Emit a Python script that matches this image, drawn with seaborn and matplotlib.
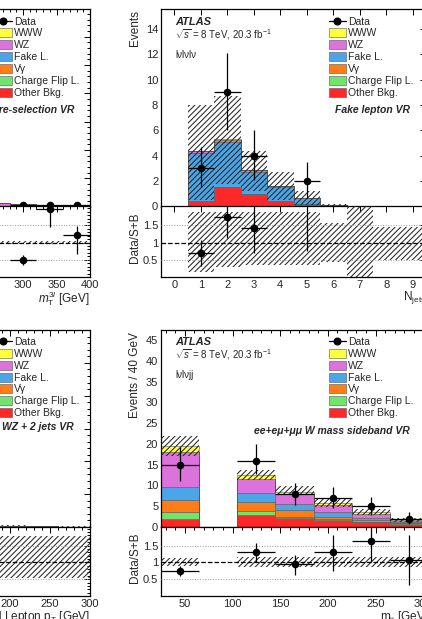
#!/usr/bin/env python3
"""
Validation regions (ATLAS WWW, crop of a 2x2 grid)
Stacked backgrounds + data, with Data/S+B ratio panels.
Output: out.png (422x619)
"""

import matplotlib

matplotlib.use("Agg")
import matplotlib.pyplot as plt
import numpy as np
import pandas as pd
import seaborn as sns
from matplotlib.lines import Line2D
from matplotlib.patches import Patch
from matplotlib.ticker import MultipleLocator

W, H = 422, 619

PROCESSES = ["WWW", "WZ", "Fake L.", "Vγ", "Charge Flip L.", "Other Bkg."]
COLORS = ["#ffff3c", "#dc73dc", "#4ba5e6", "#ff7d14", "#6ee66e", "#ff2828"]

# ── Pre-selection VR (m_T^3l) — only the visible right end ────────────────
pre_edges = [240, 280, 320, 360, 400]
pre_www = [0.5, 0.3, 0.1, 0.1]
pre_wz = [9.0, 7.0, 2.5, 4.0]
pre_fake = [1.0, 1.0, 0.5, 0.5]
pre_vgam = [0.2, 0.1, 0.0, 0.0]
pre_cf = [0.1, 0.1, 0.0, 0.0]
pre_other = [1.2, 1.5, 0.4, 0.4]
pre_band_lo = [11.0, 9.5, 3.3, 4.7]
pre_band_hi = [13.0, 10.5, 3.7, 5.3]
pre_data = [np.nan, 5.0, 7.0, 6.0]
pre_data_lo = [np.nan, 2.2, 2.6, 2.4]
pre_data_hi = [np.nan, 3.4, 3.7, 3.6]
pre_ratio = [np.nan, 0.5, 1.97, 1.21]
pre_ratio_lo = [np.nan, 0.15, 0.52, 0.55]
pre_ratio_hi = [np.nan, 0.15, 0.5, 0.27]
pre_rband_lo = [0.96, 0.96, 0.96, 0.96]
pre_rband_hi = [1.04, 1.04, 1.04, 1.04]

# ── Fake lepton VR (N_jets) ───────────────────────────────────────────────
fake_edges = [-0.5, 0.5, 1.5, 2.5, 3.5, 4.5, 5.5, 6.5, 7.5, 8.5, 9.5]
fake_www = [0.0, 0.02, 0.05, 0.03, 0.01, 0.0, 0.0, 0.0, 0.0, 0.0]
fake_wz = [0.0, 0.1, 0.15, 0.1, 0.05, 0.02, 0.0, 0.0, 0.0, 0.0]
fake_fake = [0.0, 3.8, 3.6, 1.75, 1.1, 0.45, 0.08, 0.02, 0.01, 0.01]
fake_vgam = [0.0] * 10
fake_cf = [0.0] * 10
fake_other = [0.02, 0.45, 1.5, 1.0, 0.45, 0.2, 0.05, 0.01, 0.01, 0.01]
fake_band_lo = [0.0, 0.5, 1.8, 1.2, 0.5, 0.1, 0.0, 0.0, 0.0, 0.0]
fake_band_hi = [0.02, 8.0, 8.7, 4.4, 2.7, 1.2, 0.2, 0.06, 0.03, 0.03]
fake_data = [np.nan, 3, 9, 4, np.nan, 2, np.nan, np.nan, np.nan, np.nan]
fake_data_lo = [np.nan, 1.5, 3.0, 1.9, np.nan, 1.3, np.nan, np.nan, np.nan, np.nan]
fake_data_hi = [np.nan, 1.7, 3.1, 2.0, np.nan, 1.5, np.nan, np.nan, np.nan, np.nan]
fake_ratio = [np.nan, 0.7, 1.74, 1.42, np.nan, 3.0, np.nan, np.nan, np.nan, np.nan]
fake_ratio_lo = [np.nan, 0.39, 0.6, 0.71, np.nan, 2.25, np.nan, np.nan, np.nan, np.nan]
fake_ratio_hi = [np.nan, 0.37, 0.6, 0.8, np.nan, 2.0, np.nan, np.nan, np.nan, np.nan]
fake_rband_lo = [np.nan, 0.15, 0.3, 0.35, 0.35, 0.35, 0.45, 0.0, 0.5, 0.5]
fake_rband_hi = [np.nan, 1.88, 1.88, 1.88, 1.88, 1.88, 1.58, 2.1, 1.45, 1.45]

# ── WZ + 2 jets VR (3rd lepton pT) — visible right end ────────────────────
wz_edges = [180, 220, 260, 300]
wz_www = [0.0, 0.0, 0.0]
wz_wz = [0.3, 0.2, 0.1]
wz_fake = [0.0, 0.0, 0.0]
wz_vgam = [0.0, 0.0, 0.0]
wz_cf = [0.0, 0.0, 0.0]
wz_other = [0.1, 0.05, 0.05]
wz_band_lo = [0.3, 0.2, 0.1]
wz_band_hi = [0.5, 0.3, 0.2]
wz_rband_lo = [0.53, 0.53, 0.53]
wz_rband_hi = [1.77, 1.77, 1.77]

# ── W mass sideband VR (m_jj) ─────────────────────────────────────────────
mjj_edges = [25, 65, 105, 145, 185, 225, 265, 305]
mjj_www = [1.6, 0.0, 1.1, 0.6, 0.5, 0.4, 0.1]
mjj_wz = [8.3, 0.0, 3.4, 2.3, 1.6, 1.0, 0.3]
mjj_fake = [3.2, 0.0, 2.2, 1.5, 1.1, 0.4, 0.3]
mjj_vgam = [2.9, 0.0, 2.0, 1.6, 0.65, 0.4, 0.1]
mjj_cf = [1.7, 0.0, 1.1, 0.4, 0.15, 0.1, 0.05]
mjj_other = [1.9, 0.0, 2.8, 2.1, 1.7, 1.2, 0.8]
mjj_band_lo = [17.2, 0.0, 11.2, 7.6, 4.8, 2.9, 1.3]
mjj_band_hi = [22.0, 0.0, 13.8, 9.8, 6.9, 4.3, 2.1]
mjj_data = [15, np.nan, 16, 8, 7, 5, 2]
mjj_data_lo = [3.9, np.nan, 3.2, 2.8, 2.5, 2.1, 1.3]
mjj_data_hi = [4.2, np.nan, 4.0, 2.7, 2.6, 2.1, 1.5]
mjj_ratio = [0.75, np.nan, 1.31, 0.94, 1.31, 1.63, 1.07]
mjj_ratio_lo = [0.17, np.nan, 0.29, 0.31, 0.58, 0.61, 0.74]
mjj_ratio_hi = [0.15, np.nan, 0.25, 0.28, 0.49, 0.6, 0.73]
mjj_rband_lo = [0.9, np.nan, 0.85, 0.85, 0.85, 0.85, 0.85]
mjj_rband_hi = [1.13, np.nan, 1.15, 1.15, 1.15, 1.15, 1.15]


def fig_axes(fig, left, right, top, bottom):
    """Axes from pixel box (y measured downward)."""
    return fig.add_axes([left / W, 1 - bottom / H, (right - left) / W, (bottom - top) / H])


def stack_frame(edges, stacks):
    edges = np.asarray(edges, dtype=float)
    centers = 0.5 * (edges[:-1] + edges[1:])
    rows = []
    for proc, vals in zip(PROCESSES, stacks):
        for c, v in zip(centers, vals):
            rows.append({"x": c, "w": v, "proc": proc})
    return pd.DataFrame(rows)


def style_axis(ax, xmajor, xminor, ymajor, yminor):
    ax.xaxis.set_major_locator(MultipleLocator(xmajor))
    if xminor:
        ax.xaxis.set_minor_locator(MultipleLocator(xminor))
    ax.yaxis.set_major_locator(MultipleLocator(ymajor))
    ax.yaxis.set_minor_locator(MultipleLocator(yminor))
    ax.tick_params(which="both", direction="in", top=True, right=True,
                   labelsize=8, pad=2, width=0.7, color="black")
    ax.tick_params(which="major", length=4.5)
    ax.tick_params(which="minor", length=2.3)
    for sp in ax.spines.values():
        sp.set_linewidth(0.9)
        sp.set_color("black")


def draw_band(ax, edges, lo, hi):
    edges = np.asarray(edges, dtype=float)
    widths = np.diff(edges)
    lo = np.asarray(lo, dtype=float)
    hi = np.asarray(hi, dtype=float)
    ax.bar(edges[:-1] + widths / 2, hi - lo, bottom=lo, width=widths, fill=False,
           hatch="//////", edgecolor="#262626", linewidth=0, zorder=3)


def draw_points(ax, edges, vals, err_lo, err_hi):
    edges = np.asarray(edges, dtype=float)
    widths = np.diff(edges)
    centers = edges[:-1] + widths / 2
    ax.errorbar(centers, vals, yerr=[err_lo, err_hi], xerr=widths / 2, fmt="none",
                ecolor="black", elinewidth=0.9, capsize=0, zorder=6)
    sns.scatterplot(x=centers, y=vals, color="black", s=30, linewidth=0, ax=ax, zorder=7)


def draw_main(ax, edges, stacks, band_lo, band_hi):
    df = stack_frame(edges, stacks)
    sns.histplot(data=df, x="x", weights="w", hue="proc", hue_order=PROCESSES,
                 palette=COLORS, multiple="stack", bins=edges, element="step",
                 alpha=1, linewidth=0.4, edgecolor="#5a5a5a", legend=False, ax=ax)
    draw_band(ax, edges, band_lo, band_hi)
    ax.set_xlabel("")
    ax.set_ylabel("")
    ax.tick_params(labelbottom=False)


def draw_ratio(ax, ylabel=True):
    for y, ls, c, lw in [(0.5, ":", "#9a9a9a", 0.7), (1.5, ":", "#9a9a9a", 0.7), (1.0, "--", "black", 0.9)]:
        ax.axhline(y, ls=ls, color=c, lw=lw, zorder=4)
    ax.set_ylim(0.0, 2.05)
    if ylabel:
        ax.set_ylabel("Data/S+B", fontsize=8.5, loc="top")
        ax.yaxis.set_label_coords(-0.075, 0.92)


def ratio_ticks(ax):
    ax.set_yticks([0.5, 1.0, 1.5])
    ax.set_yticklabels(["0.5", "1", "1.5"])


def add_legend(ax, x_px, y_px, region, region_x_px, region_y_px):
    handles = [Line2D([], [], color="black", marker="o", ms=4.8, lw=0.9)]
    handles += [Patch(facecolor=c, edgecolor="#555555", linewidth=0.4) for c in COLORS]
    labels = ["Data"] + PROCESSES
    ax.legend(handles, labels, loc="upper left", bbox_to_anchor=(x_px / W, 1 - y_px / H),
              bbox_transform=ax.figure.transFigure, frameon=False, fontsize=7.5,
              handlelength=1.6, handleheight=0.95, handletextpad=0.25, labelspacing=0.17,
              borderpad=0, borderaxespad=0)
    ax.figure.text(region_x_px / W, 1 - region_y_px / H, region, ha="right", va="center",
                   fontsize=7.5, fontweight="bold", fontstyle="italic")


def add_atlas(fig, x_px, y_px, channel):
    fig.text(x_px / W, 1 - y_px / H, "ATLAS", fontsize=8, fontweight="bold",
             fontstyle="italic", va="center")
    fig.text(x_px / W, 1 - (y_px + 12.5) / H, r"$\sqrt{s}$ = 8 TeV, 20.3 fb$^{-1}$",
             fontsize=7, va="center")
    fig.text(x_px / W, 1 - (y_px + 33) / H, channel, fontsize=7, va="center")


def main() -> None:
    sns.set_theme(style="white")
    plt.rcParams["font.family"] = ["Liberation Sans", "DejaVu Sans"]
    plt.rcParams["mathtext.fontset"] = "custom"
    plt.rcParams["mathtext.rm"] = "Liberation Sans"
    plt.rcParams["mathtext.it"] = "Liberation Sans:italic"
    plt.rcParams["hatch.linewidth"] = 0.75

    fig = plt.figure(figsize=(W / 100, H / 100), dpi=100)

    # ── top-left: Pre-selection VR ──
    ax = fig_axes(fig, -178, 90, 8.5, 206.5)
    rx = fig_axes(fig, -178, 90, 206.5, 277)
    draw_main(ax, pre_edges, [pre_www, pre_wz, pre_fake, pre_vgam, pre_cf, pre_other],
              pre_band_lo, pre_band_hi)
    draw_points(ax, pre_edges, pre_data, pre_data_lo, pre_data_hi)
    ax.set_xlim(0, 400)
    ax.set_ylim(0, 700)
    style_axis(ax, 50, 10, 100, 20)
    draw_band(rx, pre_edges, pre_rband_lo, pre_rband_hi)
    draw_points(rx, pre_edges, pre_ratio, pre_ratio_lo, pre_ratio_hi)
    draw_ratio(rx, ylabel=False)
    rx.set_xlim(0, 400)
    style_axis(rx, 50, 10, 0.5, 0.1)
    ratio_ticks(rx)
    rx.set_xlabel(r"$m_{\mathrm{T}}^{3l}$ [GeV]", fontsize=8.5, loc="right")
    rx.xaxis.set_label_coords(1.0, -0.17)
    add_legend(ax, -5, 16.5, "Pre-selection VR", 74, 110)

    # ── top-right: Fake lepton VR ──
    ax = fig_axes(fig, 161, 426, 8.5, 206.5)
    rx = fig_axes(fig, 161, 426, 206.5, 277)
    draw_main(ax, fake_edges, [fake_www, fake_wz, fake_fake, fake_vgam, fake_cf, fake_other],
              fake_band_lo, fake_band_hi)
    draw_points(ax, fake_edges, fake_data, fake_data_lo, fake_data_hi)
    ax.set_xlim(-0.5, 9.5)
    ax.set_ylim(0, 15.6)
    style_axis(ax, 1, None, 2, 0.5)
    ax.set_ylabel("Events", fontsize=8.5, loc="top")
    ax.yaxis.set_label_coords(-0.075, 0.99)
    draw_band(rx, fake_edges, fake_rband_lo, fake_rband_hi)
    draw_points(rx, fake_edges, fake_ratio, fake_ratio_lo, fake_ratio_hi)
    draw_ratio(rx)
    rx.set_xlim(-0.5, 9.5)
    style_axis(rx, 1, None, 0.5, 0.1)
    ratio_ticks(rx)
    rx.set_xlabel(r"N$_{\mathrm{jets}}$", fontsize=8.5, loc="right")
    rx.xaxis.set_label_coords(1.0, -0.17)
    add_atlas(fig, 175, 22, "lνlνlν")
    add_legend(ax, 329, 16.5, "Fake lepton VR", 410, 110)

    # ── bottom-left: WZ + 2 jets VR ──
    ax = fig_axes(fig, -150, 90, 330, 527)
    rx = fig_axes(fig, -150, 90, 527, 596)
    draw_main(ax, wz_edges, [wz_www, wz_wz, wz_fake, wz_vgam, wz_cf, wz_other],
              wz_band_lo, wz_band_hi)
    ax.set_xlim(0, 300)
    ax.set_ylim(0, 60)
    style_axis(ax, 50, 10, 10, 2)
    draw_band(rx, wz_edges, wz_rband_lo, wz_rband_hi)
    draw_ratio(rx, ylabel=False)
    rx.set_xlim(0, 300)
    style_axis(rx, 50, 10, 0.5, 0.1)
    ratio_ticks(rx)
    rx.set_xlabel(r"3rd Lepton p$_{\mathrm{T}}$ [GeV]", fontsize=8.5, loc="right")
    rx.xaxis.set_label_coords(1.0, -0.19)
    add_legend(ax, -5, 337, "WZ + 2 jets VR", 74, 427)

    # ── bottom-right: W mass sideband VR ──
    ax = fig_axes(fig, 161, 428, 330, 527)
    rx = fig_axes(fig, 161, 428, 527, 596)
    draw_main(ax, mjj_edges, [mjj_www, mjj_wz, mjj_fake, mjj_vgam, mjj_cf, mjj_other],
              mjj_band_lo, mjj_band_hi)
    draw_points(ax, mjj_edges, mjj_data, mjj_data_lo, mjj_data_hi)
    ax.set_xlim(25, 305)
    ax.set_ylim(0, 47.4)
    style_axis(ax, 50, 10, 5, 1)
    ax.set_ylabel("Events / 40 GeV", fontsize=8.5, loc="top")
    ax.yaxis.set_label_coords(-0.075, 0.99)
    draw_band(rx, mjj_edges, mjj_rband_lo, mjj_rband_hi)
    draw_points(rx, mjj_edges, mjj_ratio, mjj_ratio_lo, mjj_ratio_hi)
    draw_ratio(rx)
    rx.set_xlim(25, 305)
    style_axis(rx, 50, 10, 0.5, 0.1)
    ratio_ticks(rx)
    rx.set_xlabel(r"m$_{\mathrm{jj}}$ [GeV]", fontsize=8.5, loc="right")
    rx.xaxis.set_label_coords(1.0, -0.19)
    add_atlas(fig, 175, 341.7, "lνlνjj")
    add_legend(ax, 329, 337, "ee+eμ+μμ W mass sideband VR", 410, 431)

    fig.savefig("out.png", dpi=100)
    plt.close(fig)


if __name__ == "__main__":
    main()
